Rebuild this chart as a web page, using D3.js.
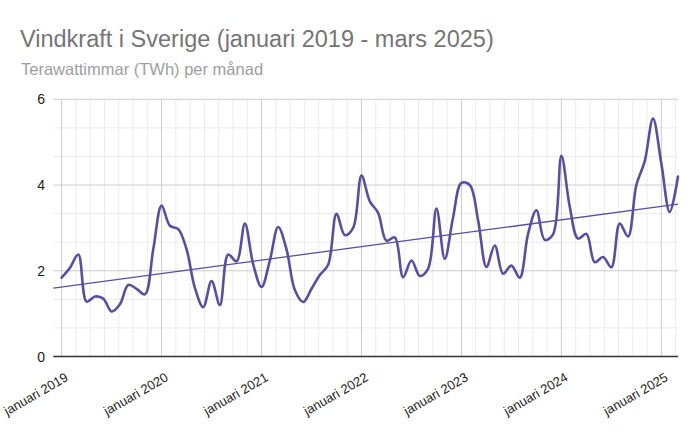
<!DOCTYPE html>
<html><head><meta charset="utf-8">
<script src="https://cdn.jsdelivr.net/npm/d3@7/dist/d3.min.js"></script>
<style>
html,body{margin:0;padding:0;background:#fff;}
svg{display:block;font-family:"Liberation Sans",Arial,sans-serif;}
</style></head>
<body>
<svg id="chart" width="700" height="433"></svg>
<script>
const title = "Vindkraft i Sverige (januari 2019 - mars 2025)";
const subtitle = "Terawattimmar (TWh) per månad";
const xTickLabels = ["januari 2019","januari 2020","januari 2021","januari 2022","januari 2023","januari 2024","januari 2025"];
const yTicks = [0, 2, 4, 6];
const v2019 = [1.84, 2.07, 2.38, 1.28, 1.40, 1.35, 1.05, 1.22, 1.67, 1.58, 1.45, 2.50];
const v2020 = [3.52, 3.05, 2.97, 2.50, 1.60, 1.15, 1.76, 1.20, 2.38, 2.22, 3.10, 2.15];
const v2021 = [1.62, 2.24, 3.02, 2.50, 1.55, 1.27, 1.58, 1.90, 2.14, 3.33, 2.83, 3.00];
const v2022 = [4.22, 3.62, 3.35, 2.70, 2.78, 1.85, 2.24, 1.88, 2.05, 3.45, 2.28, 3.25];
const v2023 = [4.05, 4.00, 3.18, 2.09, 2.59, 1.93, 2.12, 1.84, 2.86, 3.41, 2.72, 2.85];
const v2024 = [4.68, 3.50, 2.75, 2.86, 2.20, 2.32, 2.08, 3.10, 2.80, 4.00, 4.55, 5.55];
const v2025 = [4.50, 3.37, 4.20];

(function () {
const values = [].concat(v2019, v2020, v2021, v2022, v2023, v2024, v2025);
const data = values.map((v, i) => ({i, v}));

const svg = d3.select("#chart");
const color = "#5b4e9f";
const pL = 53.3, pR = 678, pT = 99.3, pB = 356.5;

const x = d3.scaleLinear().domain([-1, values.length - 1]).range([pL, pR]);
const y = d3.scaleLinear().domain([0, 6]).range([pB, pT]);

const g = svg.append("g");
const minorY = d3.range(0, 6.001, 2/3).filter(v => Math.abs(v/2 - Math.round(v/2)) > 1e-6);
g.selectAll(".hminor").data(minorY).enter().append("line")
  .attr("x1", pL).attr("x2", pR).attr("y1", d => y(d)).attr("y2", d => y(d))
  .attr("stroke", "#ebebeb").attr("stroke-width", 1);
const minorX = [];
for (let yr = 0; yr < xTickLabels.length; yr++) {
  for (let k = 1; k < 7; k++) {
    const m = yr * 12 + k * 12 / 7;
    if (x(m) < pR - 1) minorX.push(m);
  }
}
g.selectAll(".vminor").data(minorX).enter().append("line")
  .attr("x1", d => x(d)).attr("x2", d => x(d)).attr("y1", pT).attr("y2", pB)
  .attr("stroke", "#ebebeb").attr("stroke-width", 1);
g.selectAll(".hmajor").data(yTicks.filter(d => d > 0)).enter().append("line")
  .attr("x1", pL).attr("x2", pR).attr("y1", d => y(d)).attr("y2", d => y(d))
  .attr("stroke", "#cccccc").attr("stroke-width", 1);
g.selectAll(".vmajor").data(xTickLabels).enter().append("line")
  .attr("x1", (d, i) => x(i * 12)).attr("x2", (d, i) => x(i * 12)).attr("y1", pT).attr("y2", pB)
  .attr("stroke", "#cccccc").attr("stroke-width", 1);

svg.append("line").attr("x1", pL).attr("x2", pR).attr("y1", y(0)).attr("y2", y(0))
  .attr("stroke", "#333").attr("stroke-width", 1.3);

svg.selectAll(".ylab").data(yTicks).enter().append("text")
  .attr("x", 45).attr("y", d => y(d) + 5)
  .attr("text-anchor", "end").attr("font-size", 14).attr("fill", "#222")
  .text(d => d);

svg.selectAll(".xlab").data(xTickLabels).enter().append("text")
  .attr("text-anchor", "end").attr("font-size", 13).attr("fill", "#222")
  .attr("transform", (d, i) => `translate(${x(i * 12) + 7.5},${380}) rotate(-30)`)
  .text(d => d);

const line = d3.line().x(d => x(d.i)).y(d => y(d.v)).curve(d3.curveCatmullRom.alpha(0.5));
svg.append("path").datum(data).attr("d", line)
  .attr("fill", "none").attr("stroke", color).attr("stroke-width", 2.6)
  .attr("stroke-linejoin", "round").attr("stroke-linecap", "round");

const mx = d3.mean(data, d => d.i), my = d3.mean(data, d => d.v);
const slope = d3.sum(data, d => (d.i - mx) * (d.v - my)) / d3.sum(data, d => (d.i - mx) ** 2);
const icpt = my - slope * mx;
const xd = x.domain();
svg.append("line")
  .attr("x1", x(xd[0])).attr("y1", y(icpt + slope * xd[0]))
  .attr("x2", x(xd[1])).attr("y2", y(icpt + slope * xd[1]))
  .attr("stroke", color).attr("stroke-width", 1.3);

svg.append("text").attr("x", 20).attr("y", 47).attr("font-size", 23.5).attr("fill", "#757575").text(title);
svg.append("text").attr("x", 21).attr("y", 75).attr("font-size", 16.5).attr("fill", "#9e9e9e").text(subtitle);
})();
</script>
</body></html>
